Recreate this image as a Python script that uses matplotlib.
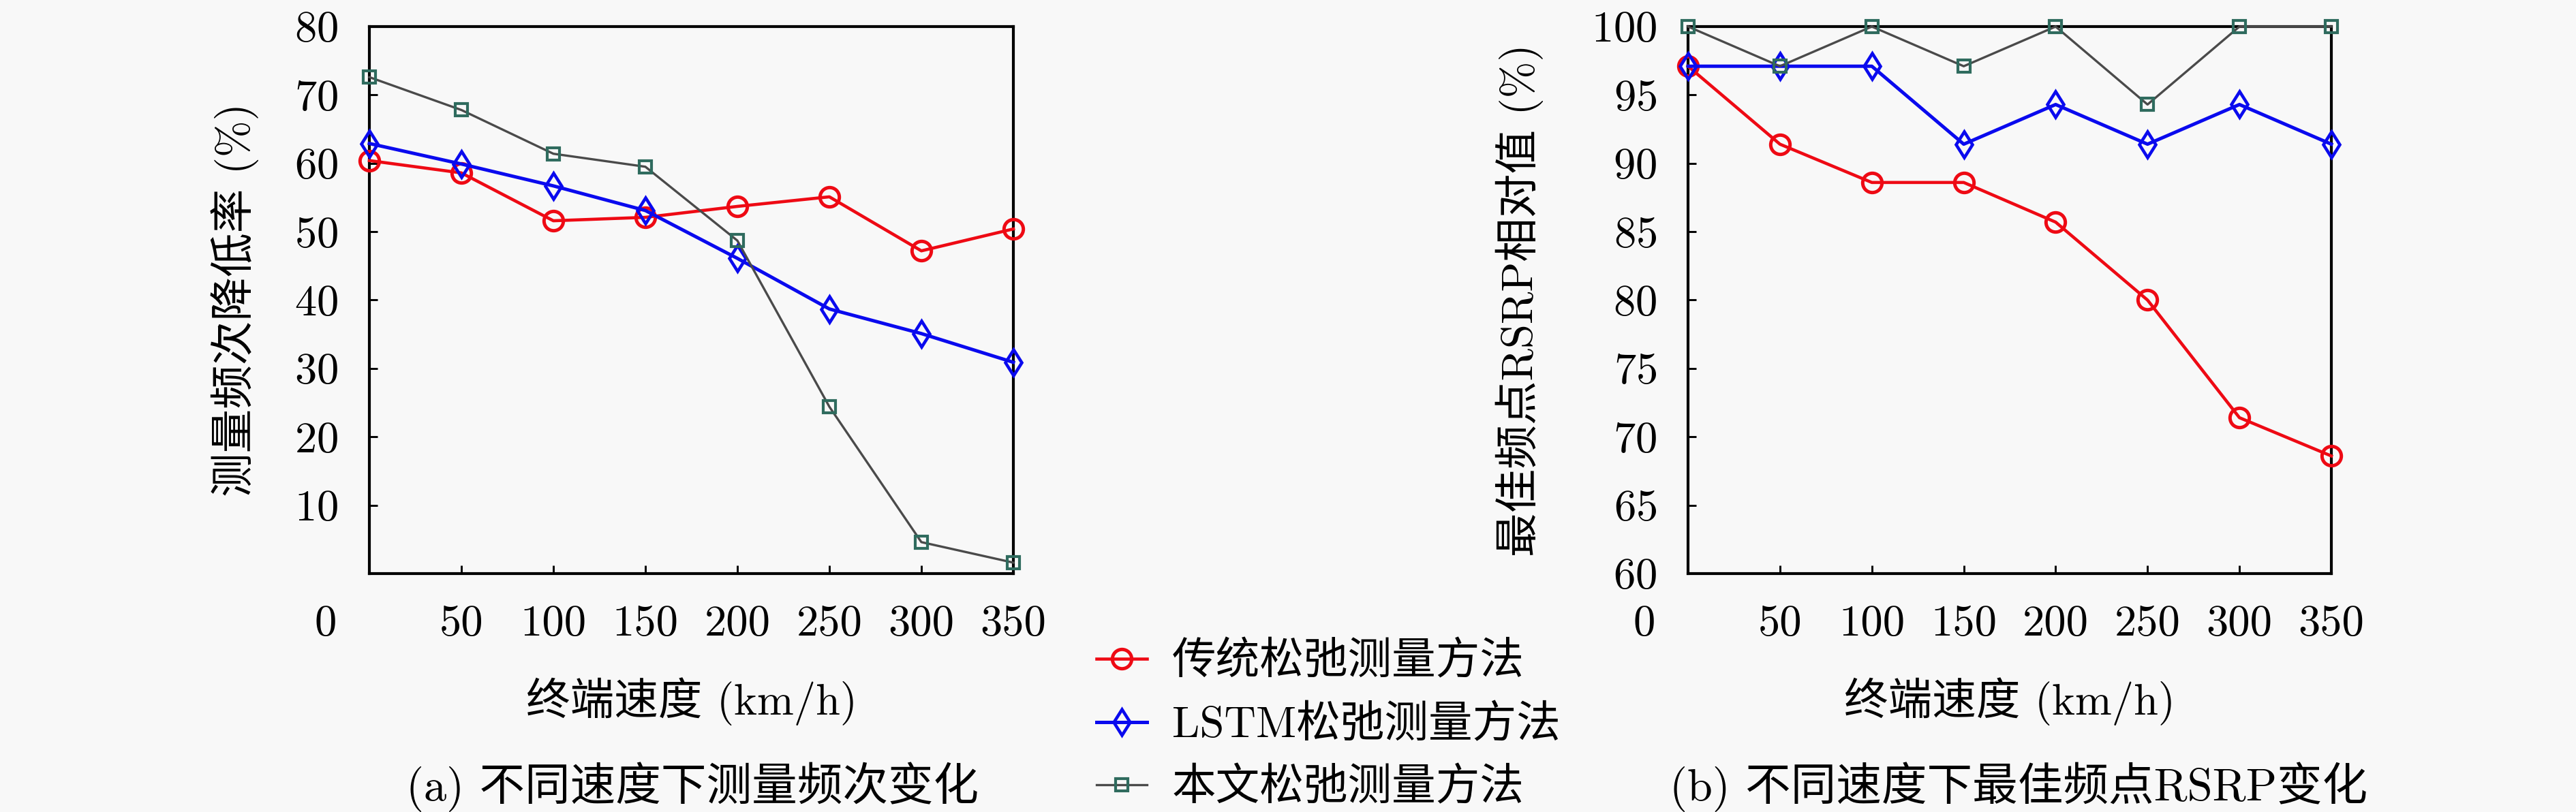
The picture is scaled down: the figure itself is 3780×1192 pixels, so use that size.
import numpy as np
import matplotlib
matplotlib.use('Agg')
import matplotlib.pyplot as plt
from matplotlib.lines import Line2D

plt.rcParams['font.family'] = ['cmr10', 'Noto Sans CJK SC']
plt.rcParams['axes.formatter.use_mathtext'] = True
plt.rcParams['font.size'] = 15.5

# --- data ---
speed = [0, 50, 100, 150, 200, 250, 300, 350]
speed_labels = ['0', '50', '100', '150', '200', '250', '300', '350']

freq_trad = [60.4, 58.6, 51.6, 52.1, 53.7, 55.1, 47.2, 50.4]
freq_lstm = [62.9, 59.9, 56.7, 53.1, 46.1, 38.7, 35.1, 30.9]
freq_ours = [72.6, 67.8, 61.4, 59.5, 48.7, 24.4, 4.6, 1.6]

rsrp_trad = [97.1, 91.4, 88.6, 88.6, 85.7, 80.0, 71.4, 68.6]
rsrp_lstm = [97.1, 97.1, 97.1, 91.4, 94.3, 91.4, 94.3, 91.4]
rsrp_ours = [100, 97.1, 100, 97.1, 100, 94.3, 100, 100]

names = ['传统松弛测量方法', 'LSTM松弛测量方法', '本文松弛测量方法']

bg = '#f8f8f8'
styles = [
    dict(color='#ee0a14', lw=1.1, marker='o', ms=6.8, mew=1.2, mfc='none', mec='#ee0a14'),
    dict(color='#0a0aee', lw=1.2, marker='d', ms=6.6, mew=1.1, mfc='none', mec='#0a0aee'),
    dict(color='#4a4a4a', lw=0.8, marker='s', ms=4.5, mew=1.0, mfc='none', mec='#2f6b5e'),
]

fig = plt.figure(figsize=(12.6, 1192 / 300), dpi=300, facecolor=bg)
ax1 = fig.add_axes([542 / 3780, 1 - 842 / 1192, 945 / 3780, 803 / 1192])
ax2 = fig.add_axes([2477 / 3780, 1 - 842 / 1192, 944 / 3780, 803 / 1192])


def style_axes(ax):
    ax.set_facecolor(bg)
    for s in ax.spines.values():
        s.set_linewidth(1.0)
    ax.tick_params(direction='in', length=2.9, width=0.7, pad=11,
                   top=False, right=False, labelsize=15.5)
    ax.set_xlim(0, 350)
    ax.set_xticks(speed)
    ax.set_xticklabels([''] + speed_labels[1:])
    # the "0" label sits left of the origin in the original figure
    ax.annotate(speed_labels[0], xy=(-0.068, 0), xycoords='axes fraction',
                xytext=(0, -11), textcoords='offset points',
                ha='center', va='top', fontsize=15.5)
    ax.set_xlabel('终端速度 (km/h)')
    ax.xaxis.set_label_coords(0.5, -0.19)


# (a)
for y, st in zip([freq_trad, freq_lstm, freq_ours], styles):
    ax1.plot(speed, y, clip_on=False, zorder=3, **st)
style_axes(ax1)
ax1.set_ylim(0, 80)
ax1.set_yticks(np.arange(10, 81, 10))
ax1.set_ylabel('测量频次降低率 (%)')
ax1.yaxis.set_label_coords(-0.171, 0.5)

# (b)
for y, st in zip([rsrp_trad, rsrp_lstm, rsrp_ours], styles):
    ax2.plot(speed, y, clip_on=False, zorder=3, **st)
style_axes(ax2)
ax2.set_ylim(60, 100)
ax2.set_yticks(np.arange(60, 101, 5))
ax2.set_ylabel('最佳频点RSRP相对值 (%)')
ax2.yaxis.set_label_coords(-0.225, 0.5)

# captions
fig.text(1016 / 3780, 0.031, '(a) 不同速度下测量频次变化', ha='center', va='center', fontsize=16)
fig.text(2962 / 3780, 0.031, '(b) 不同速度下最佳频点RSRP变化', ha='center', va='center', fontsize=16)

# legend in the middle
handles = [Line2D([], [], **st) for st in styles]
fig.legend(handles, names, loc='center', bbox_to_anchor=(1949 / 3780, 1 - 1065 / 1192),
           frameon=False, handlelength=1.15, handletextpad=0.57, labelspacing=0.5,
           borderpad=0, fontsize=15.5)

fig.savefig('out.png', dpi=300, facecolor=bg)
